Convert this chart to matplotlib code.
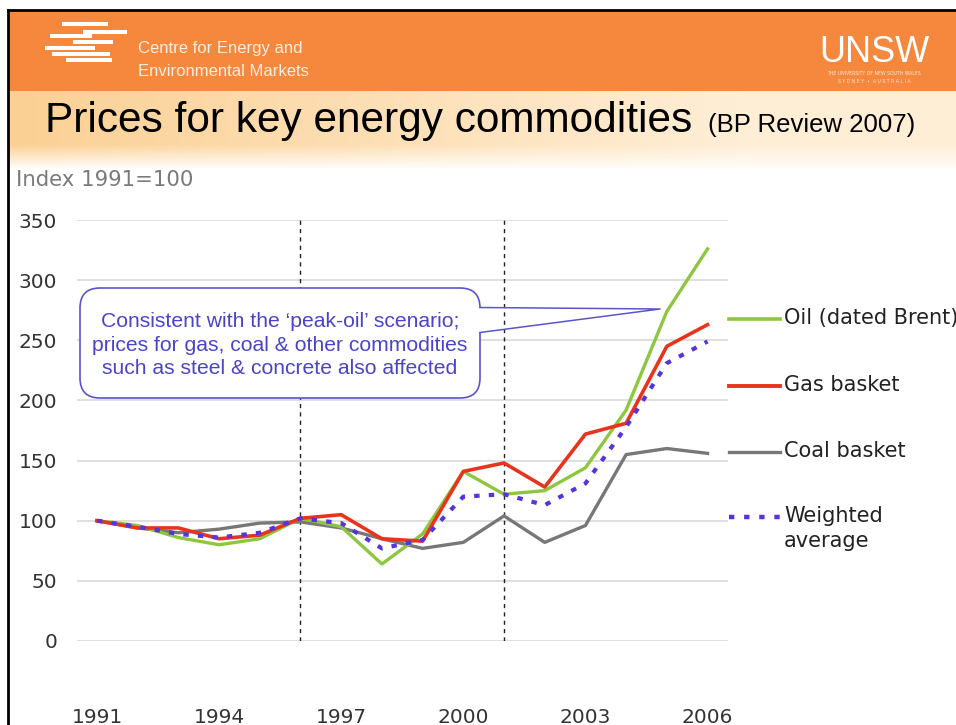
import numpy as np
import matplotlib.pyplot as plt
from matplotlib.patches import Rectangle, FancyBboxPatch
from matplotlib.lines import Line2D

years = list(range(1991, 2007))
oil = [100, 96, 86, 80, 85, 102, 95, 64, 89, 141, 122, 125, 144, 192, 274, 326]
gas = [100, 94, 94, 85, 88, 102, 105, 85, 83, 141, 148, 128, 172, 181, 245, 263]
coal = [100, 94, 90, 93, 98, 99, 94, 85, 77, 82, 104, 82, 96, 155, 160, 156]
weighted = [100, 95, 89, 86, 90, 102, 98, 77, 84, 120, 122, 113, 131, 178, 231, 249]

xticks = [1991, 1994, 1997, 2000, 2003, 2006]
yticks = list(range(0, 351, 50))
events = [1996, 2001]

series_labels = ["Oil (dated Brent)", "Gas basket", "Coal basket", "Weighted\naverage"]
callout = ("Consistent with the \u2018peak-oil\u2019 scenario;\n"
           "prices for gas, coal & other commodities\n"
           "such as steel & concrete also affected")

W, H = 956, 725
fig = plt.figure(figsize=(W / 100, H / 100), dpi=100)

# background layer in pixel coordinates (header, border)
bg = fig.add_axes([0, 0, 1, 1], zorder=0)
bg.set_xlim(0, W)
bg.set_ylim(H, 0)
bg.axis("off")

bg.add_patch(Rectangle((8, 10), W, 81, facecolor="#f5883c", edgecolor="none"))
# peach title band with a soft gradient
gx = np.linspace(0, 1, 400)
gy = np.linspace(0, 1, 80)
GX, GY = np.meshgrid(gx, gy)
left = np.array([251, 208, 148]) / 255
right = np.array([255, 238, 214]) / 255
white = np.array([255, 252, 246]) / 255
t = np.clip(GX * 1.3, 0, 1)[..., None]
band = left * (1 - t) + right * t
fade = np.clip((GY - 0.7) / 0.3, 0, 1)[..., None]
band = band * (1 - fade) + white * fade
bg.imshow(band, extent=(8, W, 168, 91), aspect="auto", zorder=1)
bg.set_xlim(0, W)
bg.set_ylim(H, 0)

bg.plot([8, W], [10, 10], color="black", lw=2, zorder=3)
bg.plot([8, 8], [10, H], color="black", lw=2, zorder=3)

# CEEM logo stripes
stripes = [(62, 22, 46), (83, 30, 44), (50, 34, 42), (73, 40, 40),
           (45, 46, 50), (52, 52, 58), (66, 58, 46)]
for sx, sy, sw in stripes:
    bg.add_patch(Rectangle((sx, sy), sw, 3.5, facecolor="white", edgecolor="none", zorder=2))
bg.text(138, 48, "Centre for Energy and", color="#fdeee0", fontsize=12,
        family="Liberation Sans", va="center", ha="left")
bg.text(138, 71, "Environmental Markets", color="#fdeee0", fontsize=12,
        family="Liberation Sans", va="center", ha="left")

bg.text(874, 52, "UNSW", color="white", fontsize=26, family="Liberation Sans",
        va="center", ha="center")
bg.text(874, 73, "THE UNIVERSITY OF NEW SOUTH WALES", color="#fde8d8", fontsize=3.3,
        va="center", ha="center")
bg.text(874, 81, "S Y D N E Y  \u2022  A U S T R A L I A", color="#fde8d8", fontsize=3.3,
        va="center", ha="center")

bg.text(45, 132, "Prices for key energy commodities", fontsize=30.5,
        family="Liberation Sans", va="baseline", ha="left", color="black")
bg.text(708, 132, "(BP Review 2007)", fontsize=18.5,
        family="Liberation Sans", va="baseline", ha="left", color="black")

bg.text(16, 180, "Index 1991=100", fontsize=15.3, color="#7a7a7a", va="center", ha="left")

# chart
x0, x1 = 76.6, 727.9
ytop, ybot = 220, 641
ax = fig.add_axes([x0 / W, (H - ybot) / H, (x1 - x0) / W, (ybot - ytop) / H], zorder=1)
ax.patch.set_alpha(0)
ax.set_xlim(1990.5, 2006.5)
ax.set_ylim(0, 350)
for s in ax.spines.values():
    s.set_visible(False)
for yv in yticks:
    ax.axhline(yv, color="#dcdcdc", lw=1.3, zorder=1)
for ev in events:
    ax.vlines(ev, 0, 350, color="#222222", lw=1, linestyles=(0, (3, 3)), zorder=2)

ax.plot(years, coal, color="#777777", lw=2.4, zorder=3)
ax.plot(years, oil, color="#8dc63f", lw=2.4, zorder=4)
ax.plot(years, gas, color="#e8341c", lw=2.6, zorder=5)
ax.plot(years, weighted, color="#5533dd", lw=3, linestyle=(0, (1.3, 2.2)), zorder=6)

ax.set_xticks(xticks)
ax.set_yticks(yticks)
ax.tick_params(length=0, labelsize=14.5, labelcolor="#333333")
ax.tick_params(axis="y", pad=14)
ax.tick_params(axis="x", pad=48)

# overlay: callout and legend
ov = fig.add_axes([0, 0, 1, 1], zorder=2)
ov.patch.set_alpha(0)
ov.set_xlim(0, W)
ov.set_ylim(H, 0)
ov.axis("off")

blue = "#5a55cc"
ov.add_patch(FancyBboxPatch((80, 288), 400, 110, boxstyle="round,pad=0,rounding_size=20",
                            facecolor="white", edgecolor=blue, lw=1.2))
ov.add_patch(Rectangle((478, 308), 4, 24, facecolor="white", edgecolor="none"))
ov.plot([480, 660, 480], [307.5, 309, 332.5], color=blue, lw=1.1)
ov.text(280, 345, callout, color="#4a44c8", fontsize=15.2, family="Liberation Sans",
        ha="center", va="center", linespacing=1.3)

legend_y = [319, 386, 452, 517]
styles = [dict(color="#8dc63f", lw=2.6), dict(color="#e8341c", lw=2.8),
          dict(color="#777777", lw=2.4), dict(color="#5533dd", lw=3.2, linestyle=(0, (1.2, 2.2)))]
for ly, lab, st in zip(legend_y, series_labels, styles):
    ov.add_line(Line2D([729, 780], [ly, ly], **st))
    ov.text(784, ly - 1 if "\n" not in lab else ly - 11, lab, fontsize=15, color="#222222",
            ha="left", va="center" if "\n" not in lab else "top", linespacing=1.3)

fig.savefig("out.png", dpi=100)
